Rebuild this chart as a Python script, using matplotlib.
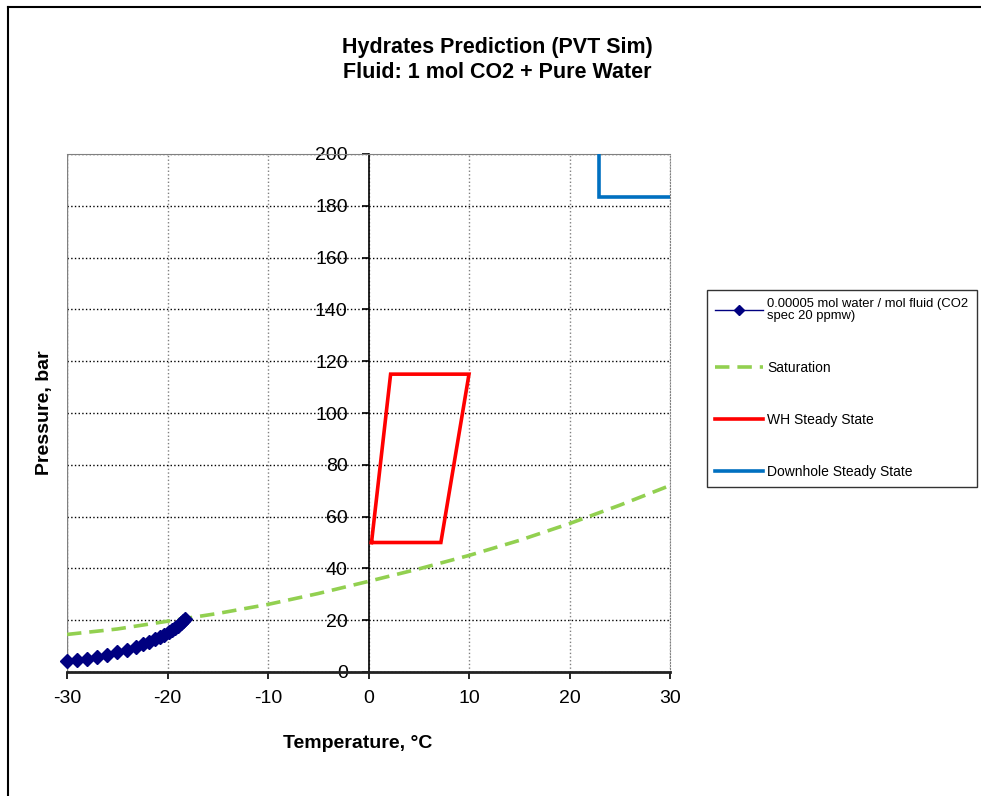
import numpy as np
import matplotlib.pyplot as plt
from matplotlib.lines import Line2D

plt.rcParams['font.family'] = ['Liberation Sans', 'DejaVu Sans']
plt.rcParams['axes.unicode_minus'] = False

# ── Data ──────────────────────────────────────────────────────────────────────
# Hydrate curve, 0.00005 mol water / mol fluid
hyd_T = [-30.0, -29.0, -28.0, -27.0, -26.0, -25.0, -24.0, -23.1, -22.4, -21.8,
         -21.2, -20.7, -20.3, -19.9, -19.6, -19.3, -19.0, -18.7, -18.5, -18.3]
hyd_P = [4.3, 4.7, 5.2, 5.9, 6.7, 7.6, 8.6, 9.7, 10.7, 11.6,
         12.6, 13.5, 14.4, 15.3, 16.1, 17.0, 17.9, 18.8, 19.6, 20.3]

# CO2 saturation line
sat_T = [-30, -25, -20, -15, -10, -5, 0, 5, 10, 15, 20, 25, 30]
sat_P = [14.5, 16.6, 19.6, 22.6, 26.1, 30.3, 35.0, 39.8, 45.0, 50.8, 57.3, 64.4, 72.0]

# Wellhead steady-state envelope
wh_T = [0.3, 2.2, 10.0, 7.2, 0.3]
wh_P = [50.0, 115.0, 115.0, 50.0, 50.0]

# Downhole steady state
dh_T = [22.9, 22.9, 40.0]
dh_P = [260.0, 183.5, 183.5]

x_ticks = [-30, -20, -10, 0, 10, 20, 30]
y_ticks = [0, 20, 40, 60, 80, 100, 120, 140, 160, 180, 200]

# ── Figure ────────────────────────────────────────────────────────────────────
fig = plt.figure(figsize=(9.81, 7.96), dpi=100)
fig.add_artist(Line2D([0.0082, 0.0082], [0, 0.9915], transform=fig.transFigure,
                      color='black', lw=1.5))
fig.add_artist(Line2D([0.0082, 1.0], [0.9915, 0.9915], transform=fig.transFigure,
                      color='black', lw=1.5))

ax = fig.add_axes([67 / 981, 1 - 672 / 796, 603 / 981, 518 / 796])

ax.plot(hyd_T, hyd_P, color='#000080', lw=1.0, marker='D', ms=7,
        label='0.00005 mol water / mol fluid (CO2\nspec 20 ppmw)', zorder=5,
        clip_on=False)
ax.plot(sat_T, sat_P, color='#92D050', lw=2.6, ls=(0, (4, 2.2)),
        label='Saturation', zorder=4)
ax.plot(wh_T, wh_P, color='#FF0000', lw=2.6, label='WH Steady State',
        solid_joinstyle='miter', zorder=4)
ax.plot(dh_T, dh_P, color='#0070C0', lw=2.6, label='Downhole Steady State',
        solid_joinstyle='miter', zorder=4)

ax.set_xlim(-30, 30)
ax.set_ylim(0, 200)
ax.set_xticks(x_ticks)
ax.set_yticks(y_ticks)
ax.tick_params(axis='both', labelsize=14, direction='out', length=5, width=1.2)
ax.tick_params(axis='y', pad=10)
ax.tick_params(axis='x', pad=8)

# grid: dotted black horizontals, dotted grey verticals
ax.yaxis.grid(True, color='black', ls=':', lw=1.0)
ax.xaxis.grid(True, color='#808080', ls=':', lw=1.0)
ax.set_axisbelow(True)

# y axis crosses at T = 0
ax.spines['left'].set_position(('data', 0))
ax.spines['left'].set_color('black')
ax.spines['left'].set_linewidth(1.2)
ax.spines['bottom'].set_linewidth(2.0)
ax.spines['bottom'].set_color('#222222')
ax.spines['top'].set_color('#808080')
ax.spines['right'].set_color('#808080')
ax.spines['right'].set_linestyle(':')
ax.add_line(Line2D([0, 0], [0, 1], transform=ax.transAxes, color='#808080', lw=1.0))

fig.text(45 / 981, 1 - 413 / 796, 'Pressure, bar', rotation=90, fontsize=14,
         fontweight='bold', ha='center', va='center')
fig.text(358 / 981, 1 - 744 / 796, 'Temperature, °C', fontsize=14,
         fontweight='bold', ha='center', va='center')
fig.text(497 / 981, 1 - 60 / 796, 'Hydrates Prediction (PVT Sim)\nFluid: 1 mol CO2 + Pure Water',
         fontsize=15.5, fontweight='bold', ha='center', va='center', linespacing=1.25)

leg = fig.legend(loc='upper left', bbox_to_anchor=(707 / 981, 1 - 290 / 796),
                 fontsize=10, frameon=True, fancybox=False, edgecolor='black',
                 borderpad=0.6, labelspacing=2.75, handlelength=3.4,
                 handletextpad=0.35, borderaxespad=0)
leg.get_frame().set_linewidth(1.0)
leg.legend_handles[0].set_markersize(5)
first = leg.get_texts()[0]
first.set_linespacing(1.0)
first.set_fontsize(9.4)

fig.savefig('out.png', dpi=100)
